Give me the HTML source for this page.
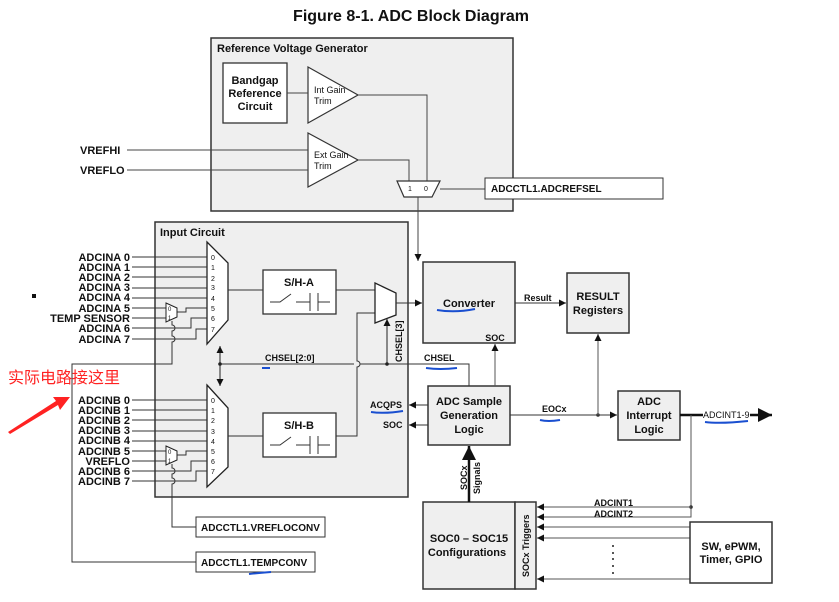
<!DOCTYPE html>
<html><head><meta charset="utf-8"><style>
html,body{margin:0;padding:0;background:#fff}
svg{display:block}
text{font-family:"Liberation Sans",Arial,sans-serif;font-weight:bold;fill:#111}
.n{font-weight:normal}
</style></head><body>
<svg width="839" height="602" viewBox="0 0 839 602" xmlns="http://www.w3.org/2000/svg">
<defs>
<marker id="a" viewBox="0 0 10 10" refX="10" refY="5" markerWidth="8" markerHeight="7" markerUnits="userSpaceOnUse" orient="auto"><path d="M0,0L10,5L0,10z" fill="#111"/></marker>
<marker id="b" viewBox="0 0 10 10" refX="10" refY="5" markerWidth="14" markerHeight="14" markerUnits="userSpaceOnUse" orient="auto"><path d="M0,0L10,5L0,10z" fill="#111"/></marker>
</defs>
<text x="411" y="21" font-size="16" text-anchor="middle">Figure 8-1. ADC Block Diagram</text>

<rect x="211" y="38" width="302" height="173" fill="#efefef" stroke="#333" stroke-width="1.5"/>
<text x="217" y="52" font-size="11">Reference Voltage Generator</text>
<rect x="223" y="63" width="64" height="60" fill="#fff" stroke="#333" stroke-width="1.3"/>
<text x="255" y="84" font-size="11" text-anchor="middle">Bandgap</text>
<text x="255" y="97" font-size="11" text-anchor="middle">Reference</text>
<text x="255" y="110" font-size="11" text-anchor="middle">Circuit</text>
<polygon points="308,67 308,123 358,95" fill="#fff" stroke="#333" stroke-width="1.2"/>
<polygon points="308,133 308,187 358,160" fill="#fff" stroke="#333" stroke-width="1.2"/>
<text x="314" y="93" font-size="9" class="n" fill="#333">Int Gain</text>
<text x="314" y="104" font-size="9" class="n" fill="#333">Trim</text>
<text x="314" y="158" font-size="9" class="n" fill="#333">Ext Gain</text>
<text x="314" y="169" font-size="9" class="n" fill="#333">Trim</text>
<g stroke="#444" fill="none" stroke-width="1">
<line x1="287" y1="93" x2="308" y2="93"/>
<polyline points="358,95 427,95 427,181"/>
<polyline points="358,160 409,160 409,181"/>
<line x1="127" y1="150" x2="308" y2="150"/>
<line x1="127" y1="170" x2="308" y2="170"/>
<line x1="440" y1="189" x2="485" y2="189"/>
</g>
<polygon points="397,181 440,181 432,197 404,197" fill="#fff" stroke="#333" stroke-width="1.2"/>
<text x="408" y="191" font-size="7" class="n">1</text>
<text x="424" y="191" font-size="7" class="n">0</text>
<line x1="418" y1="197" x2="418" y2="261" stroke="#444" marker-end="url(#a)"/>
<text x="80" y="154" font-size="11">VREFHI</text>
<text x="80" y="174" font-size="11">VREFLO</text>
<rect x="485" y="178" width="178" height="21" fill="#fff" stroke="#333"/>
<text x="491" y="192" font-size="10">ADCCTL1.ADCREFSEL</text>

<rect x="155" y="222" width="253" height="275" fill="#efefef" stroke="#333" stroke-width="1.5"/>
<text x="160" y="236" font-size="11">Input Circuit</text>
<polygon points="207,242 228,263 228,320 207,344" fill="#fff" stroke="#222" stroke-width="1.3"/>
<polygon points="207,385 228,408 228,467 207,487" fill="#fff" stroke="#222" stroke-width="1.3"/>
<g font-size="7" class="n">
<text x="211" y="260" class="n">0</text><text x="211" y="270" class="n">1</text><text x="211" y="281" class="n">2</text><text x="211" y="290" class="n">3</text><text x="211" y="301" class="n">4</text><text x="211" y="311" class="n">5</text><text x="211" y="321" class="n">6</text><text x="211" y="332" class="n">7</text>
<text x="211" y="403" class="n">0</text><text x="211" y="413" class="n">1</text><text x="211" y="423" class="n">2</text><text x="211" y="434" class="n">3</text><text x="211" y="444" class="n">4</text><text x="211" y="454" class="n">5</text><text x="211" y="464" class="n">6</text><text x="211" y="474" class="n">7</text>
</g>
<g stroke="#333" fill="none" stroke-width="1">
<line x1="132" y1="257" x2="207" y2="257"/><line x1="132" y1="267" x2="207" y2="267"/><line x1="132" y1="277" x2="207" y2="277"/><line x1="132" y1="288" x2="207" y2="288"/><line x1="132" y1="298" x2="207" y2="298"/>
<line x1="132" y1="308" x2="166" y2="308"/><line x1="132" y1="318" x2="166" y2="318"/>
<polyline points="177,312 186,312 186,308 207,308"/>
<polyline points="132,328 191,328 191,318 207,318"/>
<polyline points="132,339 196,339 196,329 207,329"/>
<line x1="132" y1="400" x2="207" y2="400"/><line x1="132" y1="410" x2="207" y2="410"/><line x1="132" y1="420" x2="207" y2="420"/><line x1="132" y1="431" x2="207" y2="431"/><line x1="132" y1="441" x2="207" y2="441"/>
<line x1="132" y1="451" x2="166" y2="451"/><line x1="132" y1="461" x2="166" y2="461"/>
<polyline points="177,455 186,455 186,451 207,451"/>
<polyline points="132,471 191,471 191,461 207,461"/>
<polyline points="132,481 196,481 196,471 207,471"/>
<path d="M172,321 V325 a3,3 0 0 1 0,6 V336 a3,3 0 0 1 0,6 V364 H72 V562 H196"/>
<path d="M172,464 V468 a3,3 0 0 1 0,6 V478 a3,3 0 0 1 0,6 V527 H196"/>
<line x1="228" y1="290" x2="263" y2="290"/>
<line x1="228" y1="436" x2="263" y2="436"/>
<line x1="336" y1="290" x2="375" y2="290"/>
<path d="M336,436 H357 V367 a3,3 0 0 0 0,-6 V313 H375"/>
<path d="M220,364 H354 M360,364 H469 V386"/>
</g>
<polygon points="166,303 177,308 177,317 166,322" fill="#fff" stroke="#222"/>
<polygon points="166,446 177,451 177,460 166,465" fill="#fff" stroke="#222"/>
<g font-size="6"><text x="168" y="311" class="n">0</text><text x="168" y="320" class="n">1</text><text x="168" y="454" class="n">0</text><text x="168" y="463" class="n">1</text></g>
<line x1="220" y1="364" x2="220" y2="346" stroke="#222" marker-end="url(#a)"/>
<line x1="220" y1="364" x2="220" y2="386" stroke="#222" marker-end="url(#a)"/>
<circle cx="220" cy="364" r="1.8" fill="#222"/>
<line x1="387" y1="364" x2="387" y2="319" stroke="#222" marker-end="url(#a)"/>
<circle cx="387" cy="364" r="1.8" fill="#222"/>
<polygon points="375,283 396,293 396,315 375,323" fill="#fff" stroke="#222" stroke-width="1.3"/>
<line x1="396" y1="303" x2="422" y2="303" stroke="#333" marker-end="url(#a)"/>
<text x="265" y="361" font-size="9">CHSEL[2:0]</text>
<text transform="translate(402,362) rotate(-90)" font-size="9">CHSEL[3]</text>
<g font-size="11" text-anchor="end">
<text x="130" y="261">ADCINA 0</text><text x="130" y="271">ADCINA 1</text><text x="130" y="281">ADCINA 2</text><text x="130" y="291">ADCINA 3</text><text x="130" y="301">ADCINA 4</text><text x="130" y="312">ADCINA 5</text><text x="130" y="322">TEMP SENSOR</text><text x="130" y="332">ADCINA 6</text><text x="130" y="343">ADCINA 7</text>
<text x="130" y="404">ADCINB 0</text><text x="130" y="414">ADCINB 1</text><text x="130" y="424">ADCINB 2</text><text x="130" y="434">ADCINB 3</text><text x="130" y="444">ADCINB 4</text><text x="130" y="455">ADCINB 5</text><text x="130" y="465">VREFLO</text><text x="130" y="475">ADCINB 6</text><text x="130" y="485">ADCINB 7</text>
</g>
<rect x="263" y="270" width="73" height="44" fill="#fff" stroke="#333" stroke-width="1.3"/>
<text x="299" y="286" font-size="11" text-anchor="middle">S/H-A</text>
<rect x="263" y="413" width="73" height="44" fill="#fff" stroke="#333" stroke-width="1.3"/>
<text x="299" y="429" font-size="11" text-anchor="middle">S/H-B</text>
<g stroke="#333" fill="none">
<path d="M270,302 H280 L291,294 M296,302 H310 M310,293 V311 M318,293 V311 M318,302 H330"/>
<path d="M270,445 H280 L291,437 M296,445 H310 M310,436 V454 M318,436 V454 M318,445 H330"/>
</g>
<rect x="196" y="517" width="129" height="20" fill="#fff" stroke="#333"/>
<text x="201" y="531" font-size="10">ADCCTL1.VREFLOCONV</text>
<rect x="196" y="552" width="119" height="20" fill="#fff" stroke="#333"/>
<text x="201" y="566" font-size="10">ADCCTL1.TEMPCONV</text>

<rect x="423" y="262" width="92" height="81" fill="#efefef" stroke="#333" stroke-width="1.5"/>
<text x="469" y="307" font-size="11" text-anchor="middle">Converter</text>
<text x="495" y="341" font-size="9" text-anchor="middle">SOC</text>
<rect x="567" y="273" width="62" height="60" fill="#efefef" stroke="#333" stroke-width="1.5"/>
<text x="598" y="300" font-size="11" text-anchor="middle">RESULT</text>
<text x="598" y="314" font-size="11" text-anchor="middle">Registers</text>
<line x1="515" y1="303" x2="566" y2="303" stroke="#333" marker-end="url(#a)"/>
<text x="524" y="301" font-size="9">Result</text>
<rect x="428" y="386" width="82" height="59" fill="#efefef" stroke="#333" stroke-width="1.5"/>
<text x="469" y="405" font-size="11" text-anchor="middle">ADC Sample</text>
<text x="469" y="419" font-size="11" text-anchor="middle">Generation</text>
<text x="469" y="433" font-size="11" text-anchor="middle">Logic</text>
<line x1="495" y1="386" x2="495" y2="344" stroke="#555" marker-end="url(#a)"/>
<line x1="428" y1="405" x2="409" y2="405" stroke="#333" marker-end="url(#a)"/>
<line x1="428" y1="425" x2="409" y2="425" stroke="#333" marker-end="url(#a)"/>
<text x="370" y="408" font-size="9">ACQPS</text>
<text x="383" y="428" font-size="9">SOC</text>
<text x="424" y="361" font-size="9">CHSEL</text>
<line x1="510" y1="415" x2="617" y2="415" stroke="#333" marker-end="url(#a)"/>
<circle cx="598" cy="415" r="1.8" fill="#333"/>
<line x1="598" y1="415" x2="598" y2="334" stroke="#555" marker-end="url(#a)"/>
<text x="542" y="412" font-size="9">EOCx</text>
<rect x="618" y="391" width="62" height="49" fill="#efefef" stroke="#333" stroke-width="1.5"/>
<text x="649" y="405" font-size="11" text-anchor="middle">ADC</text>
<text x="649" y="419" font-size="11" text-anchor="middle">Interrupt</text>
<text x="649" y="433" font-size="11" text-anchor="middle">Logic</text>
<line x1="680" y1="415" x2="703" y2="415" stroke="#111" stroke-width="2.5"/>
<line x1="750" y1="415" x2="772" y2="415" stroke="#111" stroke-width="2.5" marker-end="url(#b)"/>
<text x="703" y="418" font-size="9" class="n">ADCINT1-9</text>
<polyline points="691,415 691,517 537,517" fill="none" stroke="#555"/>
<circle cx="691" cy="507" r="1.8" fill="#333"/>
<g stroke="#555" marker-end="url(#a)">
<line x1="691" y1="507" x2="537" y2="507"/>
<line x1="545" y1="517" x2="537" y2="517"/>
<line x1="690" y1="527" x2="537" y2="527"/>
<line x1="690" y1="538" x2="537" y2="538"/>
<line x1="690" y1="579" x2="537" y2="579"/>
</g>
<text x="594" y="506" font-size="9">ADCINT1</text>
<text x="594" y="517" font-size="9">ADCINT2</text>
<g fill="#222"><circle cx="613" cy="546" r="1"/><circle cx="613" cy="553" r="1"/><circle cx="613" cy="559" r="1"/><circle cx="613" cy="566" r="1"/><circle cx="613" cy="573" r="1"/></g>
<rect x="423" y="502" width="92" height="87" fill="#efefef" stroke="#333" stroke-width="1.5"/>
<rect x="515" y="502" width="21" height="87" fill="#efefef" stroke="#333" stroke-width="1.5"/>
<text x="469" y="542" font-size="11" text-anchor="middle">SOC0 – SOC15</text>
<text x="467" y="556" font-size="11" text-anchor="middle">Configurations</text>
<text transform="translate(529,577) rotate(-90)" font-size="9">SOCx Triggers</text>
<line x1="469" y1="502" x2="469" y2="446" stroke="#111" stroke-width="2.5" marker-end="url(#b)"/>
<text transform="translate(467,490) rotate(-90)" font-size="9">SOCx</text>
<text transform="translate(480,494) rotate(-90)" font-size="9">Signals</text>
<rect x="690" y="522" width="82" height="61" fill="#fff" stroke="#333" stroke-width="1.5"/>
<text x="731" y="550" font-size="11" text-anchor="middle">SW, ePWM,</text>
<text x="731" y="563" font-size="11" text-anchor="middle">Timer, GPIO</text>

<rect x="32" y="294" width="4" height="4" fill="#111"/>
<text x="8" y="383" font-size="16" class="n" style="fill:#f22;font-family:'Liberation Sans','Noto Sans CJK SC',sans-serif">实际电路接这里</text>
<polygon points="8,432 56,401 53,397 70,397 60,410 58,405 10,434" fill="#f22"/>
<g stroke="#1a4fd0" stroke-width="2" fill="none">
<path d="M437,310 Q455,313 475,309"/><path d="M262,368 H270"/><path d="M371,412 Q385,414 403,411"/><path d="M426,368 Q440,370 457,368"/><path d="M540,420 Q548,422 560,420"/><path d="M705,422 Q720,424 748,421"/><path d="M249,574 Q258,573 271,572"/>
</g>
</svg>
</body></html>
